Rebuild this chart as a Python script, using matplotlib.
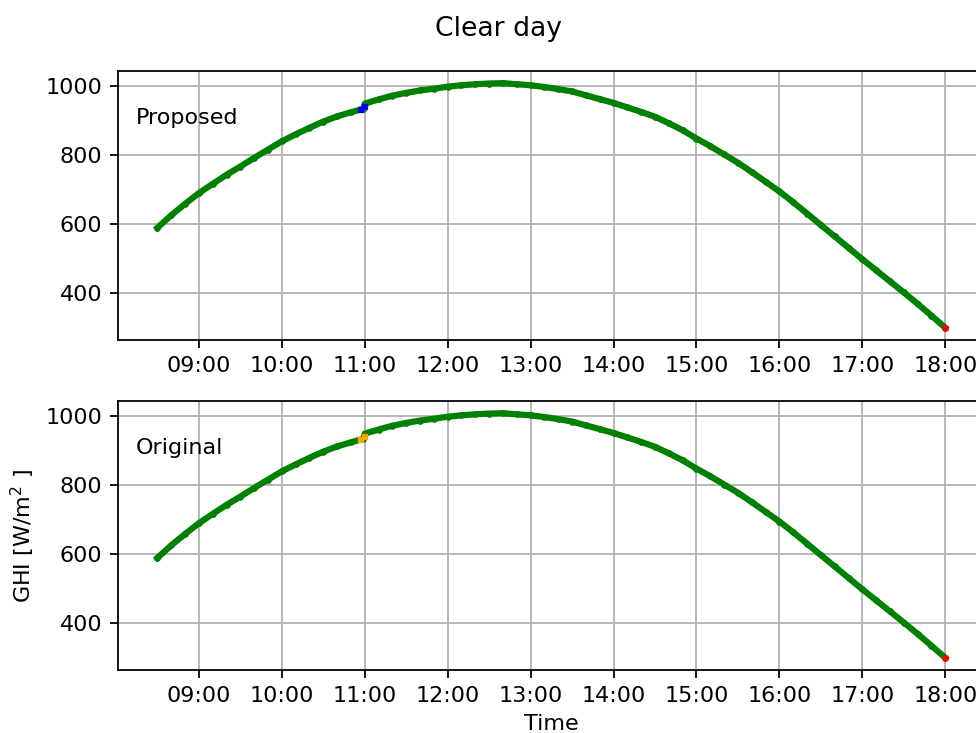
#------ GHI de un dia despejado: serie propuesta vs original
import datetime as dt
import numpy as np
import matplotlib.pyplot as plt
import matplotlib.dates as mdates

#------ Datos (cada 10 min, W/m2)
horas = ['08:30', '08:40', '08:50', '09:00', '09:10', '09:20', '09:30', '09:40', '09:50',
         '10:00', '10:10', '10:20', '10:30', '10:40', '10:50', '10:59', '11:00', '11:10',
         '11:20', '11:30', '11:40', '11:50', '12:00', '12:10', '12:20', '12:30', '12:40',
         '12:50', '13:00', '13:10', '13:20', '13:30', '13:40', '13:50', '14:00', '14:10',
         '14:20', '14:30', '14:40', '14:50', '15:00', '15:10', '15:20', '15:30', '15:40',
         '15:50', '16:00', '16:10', '16:20', '16:30', '16:40', '16:50', '17:00', '17:10',
         '17:20', '17:30', '17:40', '17:50', '18:00']
ghi = [589, 625, 658, 689, 716, 742, 766, 791, 815,
       839, 859, 878, 896, 911, 923, 933, 948, 960,
       971, 979, 986, 991, 997, 1001, 1004, 1006, 1007,
       1004, 1001, 996, 990, 983, 972, 961, 950, 937,
       924, 910, 891, 871, 847, 825, 801, 777, 750,
       722, 694, 663, 630, 597, 564, 531, 498, 466,
       434, 402, 369, 335, 300]

# puntos marcados justo antes del salto de las 11:00
horas_flag = ['10:57', '11:00']
ghi_flag = [930, 938]

dia = dt.date(2019, 6, 15)
def a_tiempo(lista):
    return [dt.datetime.combine(dia, dt.datetime.strptime(h, '%H:%M').time()) for h in lista]

t = a_tiempo(horas)
t_flag = a_tiempo(horas_flag)

#------ Graficas
fig = plt.figure(figsize=(6.1, 4.58125), dpi=160)
ax0 = fig.add_axes([0.1209, 0.5362, 0.888, 0.3670])
ax1 = fig.add_axes([0.1209, 0.0859, 0.888, 0.3670])

for ax, nombre, col_flag in [(ax0, 'Proposed', 'blue'), (ax1, 'Original', 'orange')]:
    ax.plot(t, ghi, color='red', lw=1.0, zorder=2)
    ax.plot(t, ghi, color='green', lw=2.8, marker='o', ms=2.0, zorder=3)
    ax.plot(t_flag, ghi_flag, 's', color=col_flag, ms=1.6, zorder=4)
    ax.plot(t[-1:], ghi[-1:], 'o', color='red', ms=2.0, zorder=5)
    ax.text(0.021, 0.825, nombre, transform=ax.transAxes, va='center', fontsize=10)
    ax.xaxis.set_major_locator(mdates.HourLocator())
    ax.xaxis.set_major_formatter(mdates.DateFormatter('%H:%M'))
    ax.set_yticks([400, 600, 800, 1000])
    ax.grid()

ax1.set_ylabel(r'GHI [W/m$^2$ ]')
ax1.set_xlabel('Time')
fig.suptitle('Clear day', x=0.511, y=0.978)

plt.savefig('out.png', dpi=160)
